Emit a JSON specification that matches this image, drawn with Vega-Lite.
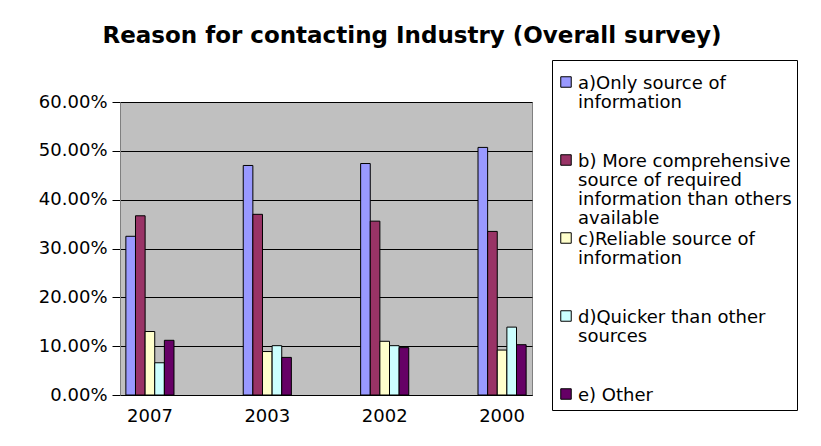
{
  "$schema": "https://vega.github.io/schema/vega-lite/v6.json",
  "autosize": "none",
  "width": 412,
  "height": 293,
  "padding": {"left": 120, "top": 102, "right": 289, "bottom": 51},
  "background": "white",
  "title": {
    "text": "Reason for contacting Industry (Overall survey)",
    "font": "DejaVu Sans",
    "fontSize": 23,
    "fontWeight": "bold",
    "color": "black",
    "anchor": "middle",
    "dx": 86,
    "baseline": "alphabetic",
    "offset": -6
  },
  "data": {
    "values": [
      {"year": "2007", "reason": "a)Only source of|information", "value": 0.325},
      {"year": "2007", "reason": "b) More comprehensive|source of required|information than others|available", "value": 0.367},
      {"year": "2007", "reason": "c)Reliable source of|information", "value": 0.130},
      {"year": "2007", "reason": "d)Quicker than other|sources", "value": 0.066},
      {"year": "2007", "reason": "e) Other", "value": 0.112},
      {"year": "2003", "reason": "a)Only source of|information", "value": 0.470},
      {"year": "2003", "reason": "b) More comprehensive|source of required|information than others|available", "value": 0.370},
      {"year": "2003", "reason": "c)Reliable source of|information", "value": 0.089},
      {"year": "2003", "reason": "d)Quicker than other|sources", "value": 0.101},
      {"year": "2003", "reason": "e) Other", "value": 0.077},
      {"year": "2002", "reason": "a)Only source of|information", "value": 0.474},
      {"year": "2002", "reason": "b) More comprehensive|source of required|information than others|available", "value": 0.356},
      {"year": "2002", "reason": "c)Reliable source of|information", "value": 0.110},
      {"year": "2002", "reason": "d)Quicker than other|sources", "value": 0.101},
      {"year": "2002", "reason": "e) Other", "value": 0.097},
      {"year": "2000", "reason": "a)Only source of|information", "value": 0.507},
      {"year": "2000", "reason": "b) More comprehensive|source of required|information than others|available", "value": 0.335},
      {"year": "2000", "reason": "c)Reliable source of|information", "value": 0.092},
      {"year": "2000", "reason": "d)Quicker than other|sources", "value": 0.139},
      {"year": "2000", "reason": "e) Other", "value": 0.103}
    ]
  },
  "mark": {"type": "bar", "stroke": "black", "strokeWidth": 1},
  "encoding": {
    "x": {
      "field": "year",
      "type": "nominal",
      "sort": ["2007", "2003", "2002", "2000"],
      "scale": {"paddingInner": 0.59, "paddingOuter": 0.05},
      "axis": {
        "title": null,
        "labelAngle": 0,
        "ticks": false,
        "labelPadding": 12,
        "domainColor": "black",
        "labelFont": "DejaVu Sans",
        "labelFontSize": 18,
        "labelColor": "black"
      }
    },
    "xOffset": {
      "field": "reason",
      "type": "nominal",
      "scale": {"paddingInner": 0, "paddingOuter": 0}
    },
    "y": {
      "field": "value",
      "type": "quantitative",
      "scale": {"domain": [0, 0.6]},
      "axis": {
        "title": null,
        "format": ".2%",
        "values": [0, 0.1, 0.2, 0.3, 0.4, 0.5, 0.6],
        "grid": true,
        "gridColor": "black",
        "gridOpacity": 1,
        "domainColor": "#808080",
        "tickColor": "black",
        "tickSize": 8,
        "labelPadding": 5,
        "labelFont": "DejaVu Sans",
        "labelFontSize": 18,
        "labelColor": "black"
      }
    },
    "color": {
      "field": "reason",
      "type": "nominal",
      "scale": {
        "domain": [
          "a)Only source of|information",
          "b) More comprehensive|source of required|information than others|available",
          "c)Reliable source of|information",
          "d)Quicker than other|sources",
          "e) Other"
        ],
        "range": ["#9999FF", "#993366", "#FFFFCC", "#CCFFFF", "#660066"]
      },
      "legend": {
        "title": " ",
        "titleFontSize": 4,
        "titlePadding": 4,
        "orient": "none",
        "legendX": 432,
        "legendY": -42,
        "padding": 5,
        "strokeColor": "black",
        "fillColor": "white",
        "symbolType": "square",
        "symbolSize": 110,
        "symbolStrokeColor": "black",
        "symbolStrokeWidth": 1,
        "symbolOpacity": 1,
        "labelFont": "DejaVu Sans",
        "labelFontSize": 18,
        "labelColor": "black",
        "labelLimit": 400,
        "labelBaseline": "top",
        "labelOffset": 3,
        "gridAlign": "all",
        "rowPadding": 1,
        "labelExpr": "split(datum.label, '|')",
        "encode": {"labels": {"update": {"lineHeight": {"value": 19}, "dy": {"value": -7}}}}
      }
    }
  },
  "config": {
    "view": {"fill": "#C0C0C0", "stroke": "#808080"}
  }
}
